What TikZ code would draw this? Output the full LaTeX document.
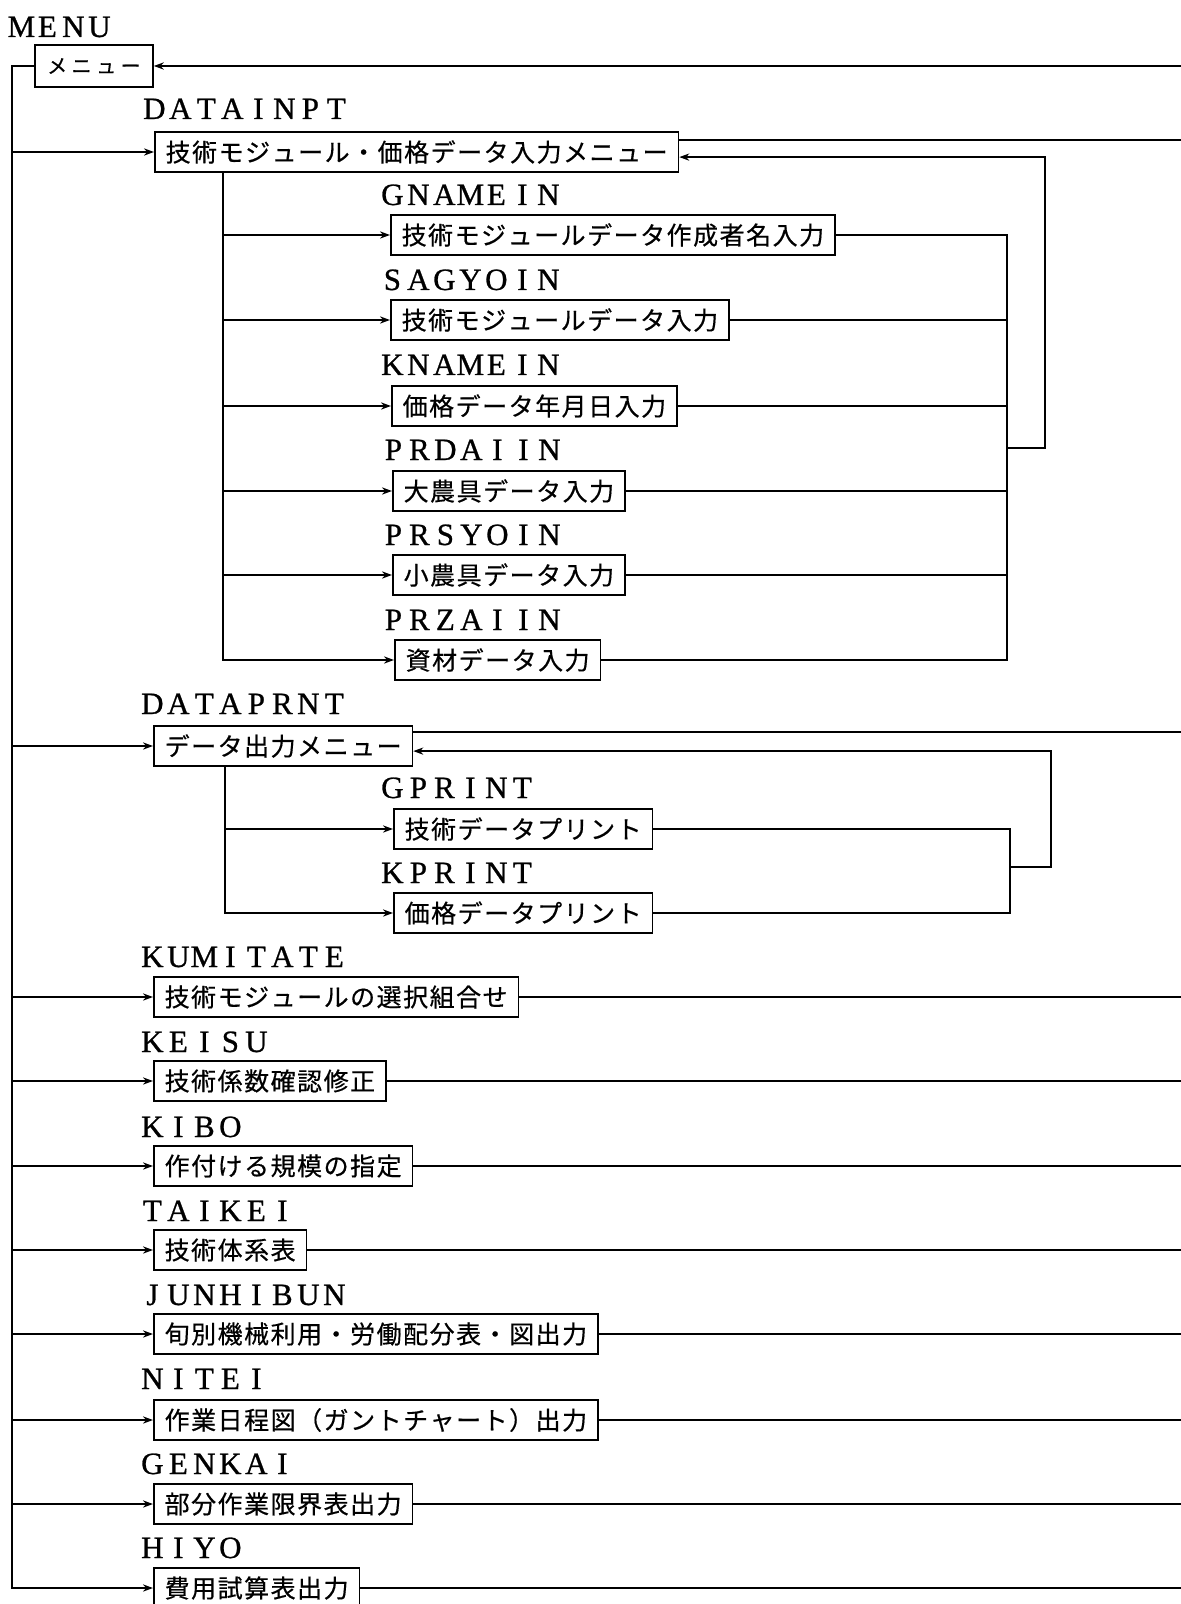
\documentclass[tikz,border=0pt]{standalone}
\usepackage{fontspec}
\setmainfont{Liberation Serif}
\newfontfamily\lblfont{Liberation Serif}[FakeBold=0.8]
\newfontfamily\jpfont{Noto Sans CJK JP}[FakeBold=0.5]
\usetikzlibrary{arrows.meta}

\newlength\pitchw
\def\pitched#1{\pitchedi#1\relax}
\def\pitchedi#1{\ifx\relax#1\else\makebox[\pitchw]{#1}\expandafter\pitchedi\fi}
\newcommand\lbltext[1]{{\setlength\pitchw{13pt}\pitched{#1}}}
\newcommand\boxtext[1]{{\setlength\pitchw{13.25pt}\pitched{#1}}}
\newcommand\menutext[1]{{\setlength\pitchw{12.25pt}\pitched{#1}}}

\tikzset{
  lbl/.style={anchor=base west, inner sep=0pt, font=\lblfont\fontsize{15.5pt}{18pt}\selectfont},
  box/.style={draw, line width=0.9pt, anchor=west, minimum height=20pt,
    inner xsep=5pt, inner ysep=0pt, font=\jpfont\fontsize{12.5pt}{14pt}\selectfont},
  conn/.style={line width=0.8pt},
  arr/.style={line width=0.8pt, -{Stealth[length=5pt,width=3.6pt]}},
}

\begin{document}
\begin{tikzpicture}[x=0.5pt,y=-0.5pt]
\useasboundingbox (0,0) rectangle (1180,1604);

% labels
\node[lbl] (lMENU) at (8,37) {\lbltext{MENU}};
\node[lbl] (lDATAINPT) at (141,119) {\lbltext{DATAINPT}};
\node[lbl] (lGNAMEIN) at (379,205) {\lbltext{GNAMEIN}};
\node[lbl] (lSAGYOIN) at (379,290) {\lbltext{SAGYOIN}};
\node[lbl] (lKNAMEIN) at (379,375) {\lbltext{KNAMEIN}};
\node[lbl] (lPRDAIIN) at (380,460) {\lbltext{PRDAIIN}};
\node[lbl] (lPRSYOIN) at (380,545) {\lbltext{PRSYOIN}};
\node[lbl] (lPRZAIIN) at (380,630) {\lbltext{PRZAIIN}};
\node[lbl] (lDATAPRNT) at (139,714) {\lbltext{DATAPRNT}};
\node[lbl] (lGPRINT) at (379,798) {\lbltext{GPRINT}};
\node[lbl] (lKPRINT) at (379,883) {\lbltext{KPRINT}};
\node[lbl] (lKUMITATE) at (139,967) {\lbltext{KUMITATE}};
\node[lbl] (lKEISU) at (139,1052) {\lbltext{KEISU}};
\node[lbl] (lKIBO) at (139,1137) {\lbltext{KIBO}};
\node[lbl] (lTAIKEI) at (139,1221) {\lbltext{TAIKEI}};
\node[lbl] (lJUNHIBUN) at (139,1305) {\lbltext{JUNHIBUN}};
\node[lbl] (lNITEI) at (139,1389) {\lbltext{NITEI}};
\node[lbl] (lGENKAI) at (139,1474) {\lbltext{GENKAI}};
\node[lbl] (lHIYO) at (139,1558) {\lbltext{HIYO}};

% boxes
\node[box, minimum height=21pt, font=\jpfont\fontsize{10pt}{12pt}\selectfont] (menu) at (34,66) {\menutext{メニュー}};
\node[box] (dinpt) at (154,152) {\boxtext{技術モジュール・価格データ入力メニュー}};
\node[box] (gname) at (390,235) {\boxtext{技術モジュールデータ作成者名入力}};
\node[box] (sagyo) at (390,320) {\boxtext{技術モジュールデータ入力}};
\node[box] (kname) at (391,406) {\boxtext{価格データ年月日入力}};
\node[box] (prdai) at (392,491) {\boxtext{大農具データ入力}};
\node[box] (prsyo) at (392,575) {\boxtext{小農具データ入力}};
\node[box] (przai) at (394,660) {\boxtext{資材データ入力}};
\node[box] (dprnt) at (153,746) {\boxtext{データ出力メニュー}};
\node[box] (gprint) at (393,829) {\boxtext{技術データプリント}};
\node[box] (kprint) at (393,913) {\boxtext{価格データプリント}};
\node[box] (kumi) at (153,997) {\boxtext{技術モジュールの選択組合せ}};
\node[box] (keisu) at (153,1081) {\boxtext{技術係数確認修正}};
\node[box] (kibo) at (153,1166) {\boxtext{作付ける規模の指定}};
\node[box] (taikei) at (153,1250) {\boxtext{技術体系表}};
\node[box] (junhi) at (153,1334) {\boxtext{旬別機械利用・労働配分表・図出力}};
\node[box] (nitei) at (153,1420) {\boxtext{作業日程図（ガントチャート）出力}};
\node[box] (genkai) at (153,1504) {\boxtext{部分作業限界表出力}};
\node[box] (hiyo) at (153,1588) {\boxtext{費用試算表出力}};

% helper coordinates
\coordinate (B) at (12,0);
\coordinate (R) at (1182,0);
\coordinate (BI) at (223,0);
\coordinate (BP) at (225,0);
\coordinate (LI) at (1007,0);
\coordinate (LO) at (1045,0);
\coordinate (J1) at (1007,448);
\coordinate (PI) at (1010,0);
\coordinate (PO) at (1051,0);
\coordinate (J2) at (1010,867);
\coordinate (dinO) at ([yshift=-4.5pt]dinpt.north east);
\coordinate (dinI) at ([yshift=-13pt]dinpt.north east);
\coordinate (dpO) at ([yshift=-3.5pt]dprnt.north east);
\coordinate (dpI) at ([yshift=-13pt]dprnt.north east);

% main left bus
\draw[arr] (menu.west) -- (B |- menu.west) -- (B |- hiyo.west) -- (hiyo.west);
\foreach \n in {dinpt,dprnt,kumi,keisu,kibo,taikei,junhi,nitei,genkai}
  \draw[arr] (B |- \n.west) -- (\n.west);

% right edge returns
\draw[arr] (R |- menu.east) -- (menu.east);
\draw[conn] (dinO) -- (dinO -| R);
\draw[conn] (dpO) -- (dpO -| R);
\foreach \n in {kumi,keisu,kibo,taikei,junhi,nitei,genkai,hiyo}
  \draw[conn] (\n.east) -- (\n.east -| R);

% DATAINPT sub-menu
\draw[arr] (BI |- dinpt.south) |- (przai.west);
\foreach \n in {gname,sagyo,kname,prdai,prsyo}
  \draw[arr] (BI |- \n.west) -- (\n.west);
\draw[conn] (gname.east) -- (gname.east -| LI) -- (przai.east -| LI) -- (przai.east);
\foreach \n in {sagyo,kname,prdai,prsyo}
  \draw[conn] (\n.east) -- (\n.east -| LI);
\draw[arr] (J1) -- (J1 -| LO) |- (dinI);

% DATAPRNT sub-menu
\draw[arr] (BP |- dprnt.south) |- (kprint.west);
\draw[arr] (BP |- gprint.west) -- (gprint.west);
\draw[conn] (gprint.east) -- (gprint.east -| PI) -- (kprint.east -| PI) -- (kprint.east);
\draw[arr] (J2) -- (J2 -| PO) |- (dpI);
\end{tikzpicture}
\end{document}
